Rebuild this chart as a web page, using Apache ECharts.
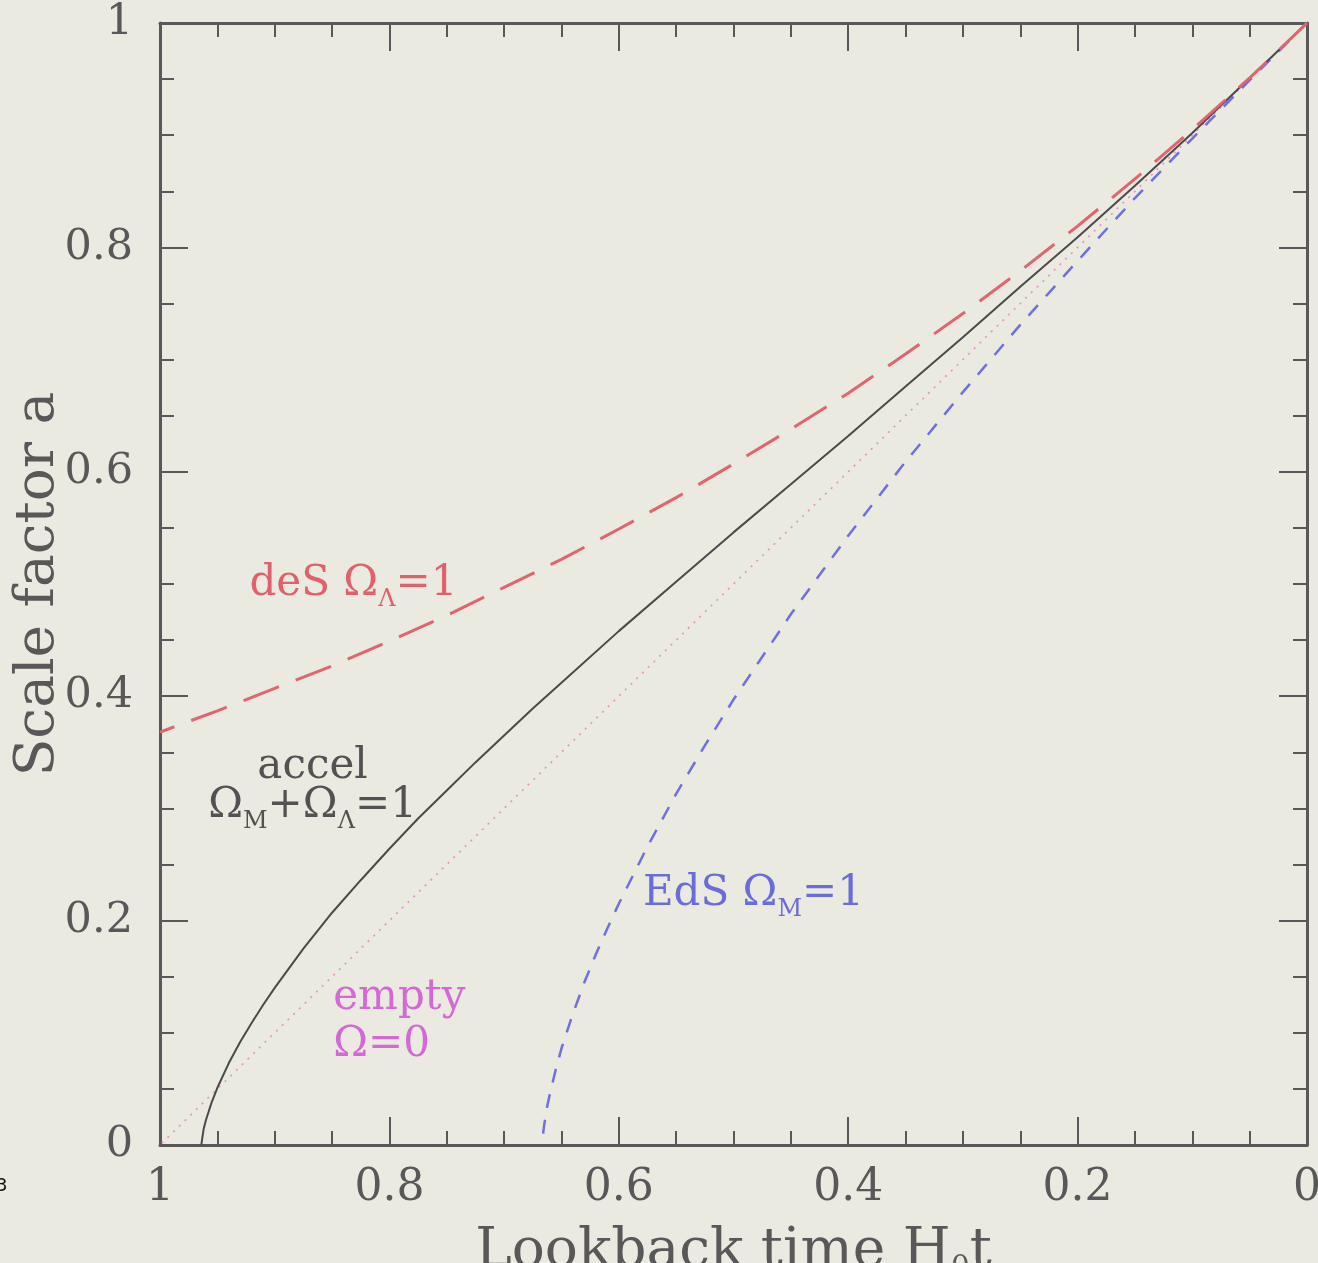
<!DOCTYPE html>
<html>
<head>
<meta charset="utf-8">
<script src="https://cdn.jsdelivr.net/npm/echarts@6/dist/echarts.min.js"></script>
<style>
  html, body { margin: 0; padding: 0; background: #ebeae0; }
  #chart { width: 1318px; height: 1263px; }
</style>
</head>
<body>
<div id="chart"></div>
<script>
// Lookback time H0 t (x) and scale factor a (y) for four cosmologies.
const tDeS = [0, 0.05, 0.1, 0.15, 0.2, 0.25, 0.3, 0.35, 0.4, 0.45, 0.5, 0.55, 0.6, 0.65, 0.7, 0.75, 0.8, 0.85, 0.9, 0.95, 1];
const aDeS = [1, 0.951, 0.905, 0.861, 0.819, 0.779, 0.741, 0.705, 0.670, 0.638, 0.607, 0.577, 0.549, 0.522, 0.497, 0.472, 0.449, 0.427, 0.407, 0.387, 0.368];

const tAccel = [0, 0.05, 0.1, 0.15, 0.2, 0.25, 0.3, 0.35, 0.4, 0.45, 0.5, 0.55, 0.6, 0.65, 0.675, 0.7, 0.725, 0.75, 0.775, 0.8, 0.825, 0.85, 0.875, 0.9, 0.91, 0.92, 0.93, 0.94, 0.95, 0.955, 0.96, 0.962, 0.964];
const aAccel = [1, 0.951, 0.902, 0.855, 0.809, 0.765, 0.720, 0.676, 0.632, 0.589, 0.546, 0.502, 0.458, 0.412, 0.389, 0.365, 0.341, 0.316, 0.291, 0.264, 0.236, 0.207, 0.175, 0.140, 0.125, 0.109, 0.092, 0.073, 0.051, 0.038, 0.022, 0.014, 0];

const tEmpty = [0, 0.25, 0.5, 0.75, 1];
const aEmpty = [1, 0.75, 0.5, 0.25, 0];

const tEdS = [0, 0.05, 0.1, 0.15, 0.2, 0.25, 0.3, 0.35, 0.4, 0.45, 0.5, 0.525, 0.55, 0.575, 0.6, 0.61, 0.62, 0.63, 0.64, 0.65, 0.655, 0.66, 0.6625, 0.665, 0.6658, 0.6667];
const aEdS = [1, 0.949, 0.897, 0.844, 0.788, 0.731, 0.671, 0.609, 0.543, 0.473, 0.397, 0.356, 0.313, 0.266, 0.215, 0.193, 0.170, 0.145, 0.117, 0.086, 0.067, 0.046, 0.034, 0.018, 0.012, 0];

const xTicks = [0, 0.2, 0.4, 0.6, 0.8, 1];
const yTicks = [0, 0.2, 0.4, 0.6, 0.8, 1];

const pairs = (xs, ys) => xs.map((x, i) => [x, ys[i]]);

const FONT = '"DejaVu Serif", "Liberation Serif", serif';
const INK = '#585858';
const BG = '#ebeae0';

const fmt = v => {
  const m = xTicks.concat(yTicks).find(t => Math.abs(t - v) < 1e-9);
  return m === undefined ? '' : String(m);
};

function axisBase(extra) {
  return Object.assign({
    type: 'value', min: 0, max: 1, interval: 0.2,
    axisLine: { show: true, onZero: false, lineStyle: { color: INK, width: 3 } },
    axisTick: { show: true, inside: true, length: 28, lineStyle: { color: INK, width: 2 } },
    minorTick: { show: true, splitNumber: 4, length: 14, lineStyle: { color: INK, width: 2 } },
    splitLine: { show: false },
    minorSplitLine: { show: false },
    nameMoveOverlap: false
  }, extra);
}

const chart = echarts.init(document.getElementById('chart'), null, { renderer: 'canvas' });

chart.setOption({
  backgroundColor: BG,
  animation: false,
  grid: { left: 160, right: 11, top: 23, bottom: 118, containLabel: false, outerBoundsMode: 'none' },
  xAxis: [
    axisBase({
      position: 'bottom', inverse: true,
      name: 'Lookback time H{sub|0}t',
      nameLocation: 'middle', nameGap: 76,
      nameTextStyle: {
        fontFamily: FONT, fontSize: 55, color: INK,
        rich: { sub: { fontFamily: FONT, fontSize: 30, color: INK, verticalAlign: 'bottom', padding: [32, 0, 0, 0] } }
      },
      axisLabel: { show: true, margin: 22, fontFamily: FONT, fontSize: 44, color: INK, formatter: fmt, showMinLabel: true, showMaxLabel: true }
    }),
    axisBase({ position: 'top', inverse: true, axisLabel: { show: false } })
  ],
  yAxis: [
    axisBase({
      position: 'left',
      name: 'Scale factor a',
      nameLocation: 'middle', nameGap: 94, nameRotate: 90,
      nameTextStyle: { fontFamily: FONT, fontSize: 55, color: INK },
      axisLabel: { show: true, margin: 27, fontFamily: FONT, fontSize: 43, color: INK, formatter: fmt, showMinLabel: true, showMaxLabel: true }
    }),
    axisBase({ position: 'right', axisLabel: { show: false } })
  ],
  series: [
    {
      name: 'empty', type: 'line', data: pairs(tEmpty, aEmpty), showSymbol: false,
      lineStyle: { color: '#e690c4', width: 1.6, type: [2, 6] }, z: 2
    },
    {
      name: 'EdS', type: 'line', data: pairs(tEdS, aEdS), showSymbol: false,
      lineStyle: { color: '#6e70e2', width: 2.5, type: [14, 12] }, z: 3
    },
    {
      name: 'accel', type: 'line', data: pairs(tAccel, aAccel), showSymbol: false,
      lineStyle: { color: '#4a4a4a', width: 2 }, z: 4
    },
    {
      name: 'deS', type: 'line', data: pairs(tDeS, aDeS), showSymbol: false,
      lineStyle: { color: '#e2646f', width: 3, type: [38, 18] }, z: 5
    }
  ]
});

// Curve annotations, anchored in data coordinates.
const LBL = 42;
function rich(color) {
  return {
    m: { fontFamily: FONT, fontSize: LBL, fill: color, lineHeight: 56, verticalAlign: 'middle' },
    s: { fontFamily: FONT, fontSize: 24, fill: color, lineHeight: 24, verticalAlign: 'bottom' }
  };
}
function note(text, at, color, align) {
  const p = chart.convertToPixel({ xAxisIndex: 0, yAxisIndex: 0 }, at);
  return {
    type: 'text', x: p[0], y: p[1], z: 10,
    style: { text: text, rich: rich(color), fill: color, align: align || 'left', verticalAlign: 'middle' }
  };
}

const red = '#e0606c', gray = '#525252', blue = '#6a6cdc', mag = '#d468d6';
chart.setOption({
  graphic: [
    note('{m|deS Ω}{s|Λ}{m|=1}', [0.922, 0.500], red),
    note('{m|accel}', [0.867, 0.337], gray, 'center'),
    note('{m|Ω}{s|M}{m|+Ω}{s|Λ}{m|=1}', [0.867, 0.302], gray, 'center'),
    note('{m|EdS Ω}{s|M}{m|=1}', [0.579, 0.224], blue),
    note('{m|empty}', [0.849, 0.131], mag),
    note('{m|Ω=0}', [0.849, 0.089], mag),
    {
      type: 'text', x: -4, y: 1186, z: 10,
      style: { text: '3', fontFamily: '"DejaVu Sans", sans-serif', fontSize: 18, fill: '#111', verticalAlign: 'middle' }
    }
  ]
});
</script>
</body>
</html>
